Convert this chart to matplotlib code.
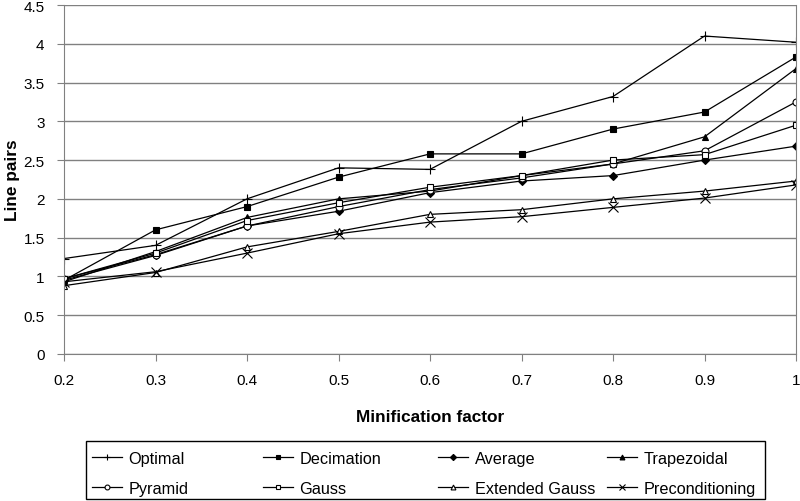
import matplotlib.pyplot as plt
from matplotlib.patches import Rectangle

plt.rcParams['font.family'] = ['Liberation Sans', 'DejaVu Sans']

factors = [0.2, 0.3, 0.4, 0.5, 0.6, 0.7, 0.8, 0.9, 1.0]

optimal = [1.23, 1.40, 2.00, 2.40, 2.38, 3.00, 3.32, 4.10, 4.02]
decimation = [0.95, 1.60, 1.90, 2.28, 2.58, 2.58, 2.90, 3.12, 3.83]
average = [0.95, 1.27, 1.65, 1.84, 2.08, 2.23, 2.30, 2.50, 2.68]
trapezoidal = [0.93, 1.32, 1.76, 2.00, 2.10, 2.30, 2.45, 2.80, 3.68]
pyramid = [0.97, 1.28, 1.65, 1.90, 2.12, 2.27, 2.45, 2.62, 3.25]
gauss = [0.97, 1.30, 1.72, 1.95, 2.15, 2.30, 2.50, 2.57, 2.95]
ext_gauss = [0.88, 1.05, 1.38, 1.58, 1.80, 1.86, 2.00, 2.10, 2.23]
precond = [0.93, 1.06, 1.30, 1.55, 1.70, 1.77, 1.89, 2.01, 2.18]

series = [
    ("Optimal", optimal, "+", "black"),
    ("Decimation", decimation, "s", "black"),
    ("Average", average, "D", "black"),
    ("Trapezoidal", trapezoidal, "^", "black"),
    ("Pyramid", pyramid, "o", "white"),
    ("Gauss", gauss, "s", "white"),
    ("Extended Gauss", ext_gauss, "^", "white"),
    ("Preconditioning", precond, "x", "black"),
]

fig = plt.figure(figsize=(8, 5.02), dpi=100)
ax = fig.add_axes([0.08, 0.293, 0.915, 0.695])

handles = []
for name, vals, mk, fc in series:
    ms = 7 if mk in ("+", "x") else 5
    if mk == "D":
        ms = 4.5
    line, = ax.plot(factors, vals, color="black", lw=0.9, marker=mk,
                    markersize=ms, markerfacecolor=fc, markeredgecolor="black",
                    markeredgewidth=0.8, label=name)
    handles.append(line)

ax.set_xlim(0.2, 1.0)
ax.set_ylim(0, 4.5)
ax.set_xticks(factors)
ax.set_xticklabels(["0.2", "0.3", "0.4", "0.5", "0.6", "0.7", "0.8", "0.9", "1"])
ax.set_yticks([0, 0.5, 1, 1.5, 2, 2.5, 3, 3.5, 4, 4.5])
ax.set_yticklabels(["0", "0.5", "1", "1.5", "2", "2.5", "3", "3.5", "4", "4.5"])
ax.yaxis.grid(True, color="#808080", lw=1)
ax.set_axisbelow(True)
ax.tick_params(labelsize=11, color="#808080", length=5)
ax.tick_params(axis="x", pad=9)
ax.tick_params(axis="y", pad=9)
for s in ["left", "bottom", "right"]:
    ax.spines[s].set_color("#808080")
ax.spines["top"].set_visible(False)

ax.set_xlabel("Minification factor", fontsize=12.4, fontweight="bold")
ax.xaxis.label.set_va("center")
ax.xaxis.set_label_coords(0.5, -0.18)
ax.set_ylabel("Line pairs", fontsize=12.4, fontweight="bold")
ax.yaxis.label.set_va("center")
ax.yaxis.set_label_coords(-0.071, 0.5)

# Excel-style legend: four columns at fixed places inside one box
col_x = [92, 263, 438, 607]
for c, x in enumerate(col_x):
    pair = [handles[c], handles[c + 4]]
    fig.legend(pair, [h.get_label() for h in pair], loc="upper left",
               bbox_to_anchor=(x / 800, 1 - 452 / 502), frameon=False,
               fontsize=11.7, handlelength=1.85, handletextpad=0.4,
               borderpad=0, borderaxespad=0, labelspacing=0.92,
               markerscale=0.7)
fig.add_artist(Rectangle((86 / 800, 2 / 502), 679 / 800, 58 / 502,
                         transform=fig.transFigure, fill=False,
                         edgecolor="black", lw=1))

fig.savefig("out.png", dpi=100)
